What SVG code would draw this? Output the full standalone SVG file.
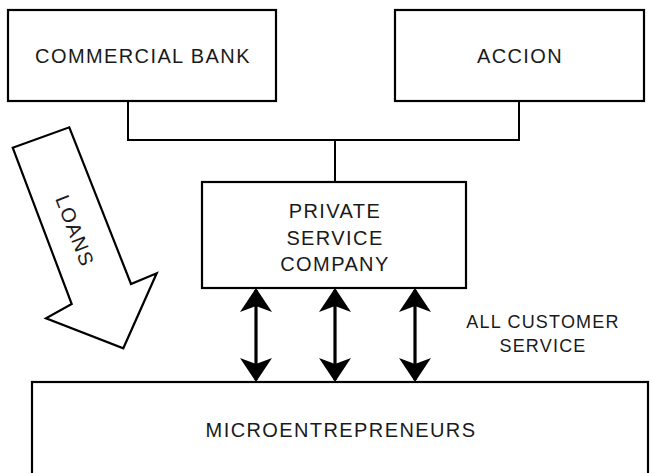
<svg xmlns="http://www.w3.org/2000/svg" width="652" height="473" viewBox="0 0 652 473">
<style>
.box{fill:#fff;stroke:#000;stroke-width:2.2}
.t{font-family:"Liberation Sans",Arial,sans-serif;font-size:20px;letter-spacing:1.4px;fill:#1a1a1a;text-anchor:middle}
.s{font-family:"Liberation Sans",Arial,sans-serif;font-size:18px;letter-spacing:1.2px;fill:#1a1a1a;text-anchor:middle}
.ln{stroke:#000;stroke-width:2;fill:none}
.ar{stroke:#000;stroke-width:3.2;fill:none}
</style>
<defs>
<marker id="ah" viewBox="0 0 24 32" refX="22" refY="16" markerWidth="24" markerHeight="32" markerUnits="userSpaceOnUse" orient="auto-start-reverse">
<path d="M0,0 L24,16 L0,32 L6,16 Z" fill="#000"/>
</marker>
</defs>
<rect width="652" height="473" fill="#fff"/>
<g id="connectors">
<path class="ln" d="M128,101 V140 H519 V101 M335,140 V182"/>
<line class="ar" x1="256" y1="290" x2="256" y2="380" marker-start="url(#ah)" marker-end="url(#ah)"/>
<line class="ar" x1="335" y1="290" x2="335" y2="380" marker-start="url(#ah)" marker-end="url(#ah)"/>
<line class="ar" x1="415" y1="290" x2="415" y2="380" marker-start="url(#ah)" marker-end="url(#ah)"/>
</g>
<g id="commercial-bank">
<rect class="box" x="8" y="10" width="268" height="91"/>
<text class="t" x="143" y="63">COMMERCIAL BANK</text>
</g>
<g id="accion">
<rect class="box" x="395" y="10" width="249" height="91"/>
<text class="t" x="520" y="63">ACCION</text>
</g>
<g id="private-service-company">
<rect class="box" x="202" y="182" width="264" height="106"/>
<text class="t" x="335" y="218">PRIVATE</text>
<text class="t" x="335" y="245">SERVICE</text>
<text class="t" x="335" y="271">COMPANY</text>
</g>
<g id="microentrepreneurs">
<rect class="box" x="32" y="382" width="616" height="100"/>
<text class="t" x="341" y="437">MICROENTREPRENEURS</text>
</g>
<g id="loans">
<path d="M12.7,147.7 L69.3,127.3 L131,284 L156.7,273.3 L123.3,348.3 L46,318.3 L71.7,304 Z" fill="#fff" stroke="#000" stroke-width="2.2" stroke-linejoin="miter"/>
<text class="t" transform="translate(75,231) rotate(69)" y="7">LOANS</text>
</g>
<g id="all-customer-service">
<text class="s" x="543" y="328">ALL CUSTOMER</text>
<text class="s" x="543" y="352">SERVICE</text>
</g>
</svg>
